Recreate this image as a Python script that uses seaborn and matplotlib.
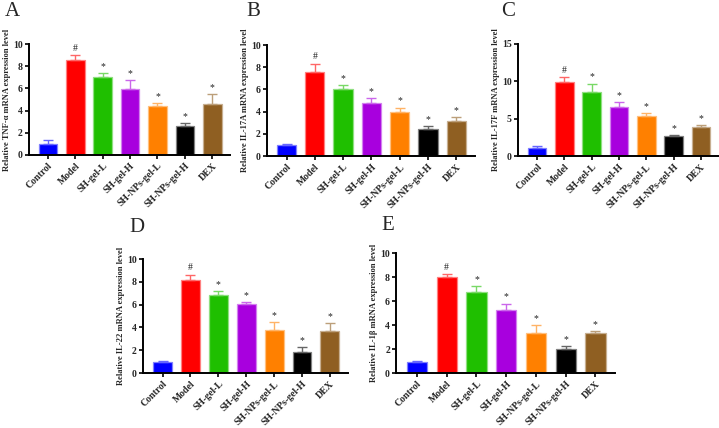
import matplotlib
matplotlib.use("Agg")
import matplotlib.pyplot as plt
import matplotlib.colors as mcolors
import seaborn as sns
import pandas as pd

groups = ["Control", "Model", "SH-gel-L", "SH-gel-H", "SH-NPs-gel-L", "SH-NPs-gel-H", "DEX"]
bar_colors = ["#0000FF", "#FF0000", "#1FBF00", "#A800DE", "#FF8000", "#000000", "#8F5F22"]

tnf_mean = [1.02, 8.60, 7.06, 5.98, 4.44, 2.61, 4.56]
tnf_err = [0.33, 0.40, 0.30, 0.75, 0.27, 0.24, 0.90]
il17a_mean = [0.99, 7.62, 6.02, 4.82, 3.98, 2.41, 3.19]
il17a_err = [0.06, 0.72, 0.36, 0.39, 0.39, 0.30, 0.33]
il17f_mean = [1.04, 9.95, 8.56, 6.53, 5.32, 2.61, 3.92]
il17f_err = [0.27, 0.63, 1.12, 0.63, 0.45, 0.14, 0.18]
il22_mean = [0.96, 8.19, 6.81, 6.05, 3.74, 1.84, 3.65]
il22_err = [0.06, 0.46, 0.38, 0.15, 0.76, 0.44, 0.70]
il1b_mean = [0.95, 7.98, 6.78, 5.29, 3.36, 2.02, 3.33]
il1b_err = [0.09, 0.26, 0.45, 0.50, 0.62, 0.22, 0.14]

marks = ["", "#", "*", "*", "*", "*", "*"]

panels = [
    ("A", "Relative TNF-\u03b1 mRNA expression level", tnf_mean, tnf_err, 10, [0, 2, 4, 6, 8, 10],
     [0.040, 0.638, 0.280, 0.259], (0.006, 0.995)),
    ("B", "Relative IL-17A mRNA expression level", il17a_mean, il17a_err, 10, [0, 2, 4, 6, 8, 10],
     [0.371, 0.6355, 0.289, 0.259], (0.343, 0.995)),
    ("C", "Relative IL-17F mRNA expression level", il17f_mean, il17f_err, 15, [0, 5, 10, 15],
     [0.7205, 0.6355, 0.279, 0.262], (0.697, 0.995)),
    ("D", "Relative IL-22 mRNA expression level", il22_mean, il22_err, 10, [0, 2, 4, 6, 8, 10],
     [0.199, 0.1285, 0.285, 0.266], (0.180, 0.49)),
    ("E", "Relative IL-1\u03b2 mRNA expression level", il1b_mean, il1b_err, 10, [0, 2, 4, 6, 8, 10],
     [0.551, 0.1285, 0.304, 0.280], (0.530, 0.495)),
]


def lighten(c, amt=0.45):
    r, g, b = mcolors.to_rgb(c)
    return (r + (1 - r) * amt, g + (1 - g) * amt, b + (1 - b) * amt)


sns.set_theme(style="ticks")
plt.rcParams["font.family"] = ["Liberation Serif", "DejaVu Serif"]

fig = plt.figure(figsize=(7.19, 4.28), dpi=100)

for letter, ylabel, means, errs, ymax, yticks, rect, lpos in panels:
    ax = fig.add_axes(rect)
    df = pd.DataFrame({"group": groups, "value": means})
    sns.barplot(data=df, x="group", y="value", hue="group", palette=bar_colors,
                order=groups, hue_order=groups, legend=False, errorbar=None,
                width=0.68, saturation=1, ax=ax)
    for patch, c in zip(ax.patches, bar_colors):
        patch.set_edgecolor(lighten(c, 0.5))
        patch.set_linewidth(0.9)
    for i, (m, e, c) in enumerate(zip(means, errs, bar_colors)):
        ax.errorbar(i, m, yerr=[[0], [e]], fmt="none", ecolor=lighten(c, 0.4),
                    elinewidth=1.0, capsize=3.5, capthick=1.0, zorder=3)
        if marks[i]:
            ax.annotate(marks[i], (i, m + e), xytext=(0, 1.5), textcoords="offset points",
                        ha="center", va="bottom", fontsize=7, color="#222222")
    ax.set_ylim(0, ymax)
    ax.set_xlim(-0.7, 6.65)
    ax.set_yticks(yticks)
    ax.set_xlabel("")
    ax.set_ylabel(ylabel, fontsize=6.1, fontweight="bold", labelpad=1.5)
    ax.set_xticks(range(len(groups)))
    ax.set_xticklabels(groups, rotation=45, ha="right", rotation_mode="anchor",
                       fontsize=7, fontweight="bold")
    for t in ax.get_yticklabels():
        t.set_fontsize(7)
        t.set_fontweight("bold")
    ax.tick_params(axis="both", direction="out", length=3, width=1.2, pad=1.5, color="black")
    sns.despine(ax=ax)
    for s in ["left", "bottom"]:
        ax.spines[s].set_linewidth(1.4)
        ax.spines[s].set_color("black")
    fig.text(lpos[0], lpos[1], letter, fontsize=15, va="top", ha="left")

fig.savefig("out.png", dpi=100)
